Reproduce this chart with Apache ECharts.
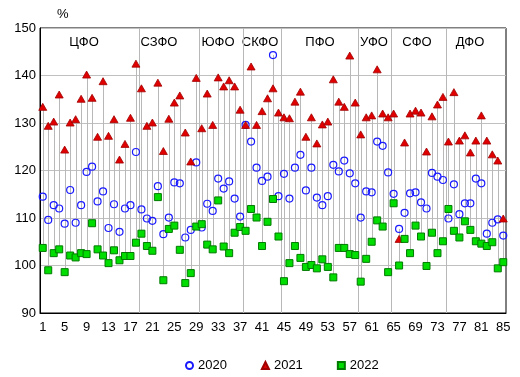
<!DOCTYPE html>
<html>
<head>
<meta charset="utf-8">
<script src="https://cdn.jsdelivr.net/npm/echarts@6/dist/echarts.min.js"></script>
<style>html,body{margin:0;padding:0;background:#fff}#c{width:520px;height:377px}</style>
</head>
<body>
<div id="c"></div>
<script>
const categories = ['1','2','3','4','5','6','7','8','9','10','11','12','13','14','15','16','17','18','19','20','21','22','23','24','25','26','27','28','29','30','31','32','33','34','35','36','37','38','39','40','41','42','43','44','45','46','47','48','49','50','51','52','53','54','55','56','57','58','59','60','61','62','63','64','65','66','67','68','69','70','71','72','73','74','75','76','77','78','79','80','81','82','83','84','85'];
const v2020 = [114.5,109.6,112.7,112.0,108.8,115.9,109.0,112.7,119.7,120.8,113.5,115.6,107.9,112.9,107.1,112.0,112.7,123.9,111.8,109.9,109.4,116.7,106.6,110.1,117.5,117.3,105.9,107.5,121.7,108.0,113.0,111.5,118.3,116.2,117.7,114.1,110.3,129.6,126.1,120.6,117.8,118.7,144.3,114.6,119.3,114.1,120.6,123.3,115.8,120.6,114.3,112.7,114.6,121.2,119.8,122.1,119.4,117.3,110.1,115.6,115.4,126.1,125.2,119.6,115.1,107.7,111.1,115.2,115.4,113.3,112.0,119.5,118.7,118.0,109.9,117.1,110.8,113.1,113.1,118.3,117.3,106.7,109.0,109.7,106.3];
const v2021 = [133.4,129.4,130.3,136.0,124.4,130.1,130.8,135.1,140.2,135.3,127.1,138.8,127.3,130.8,122.3,125.6,131.1,142.5,137.3,129.4,130.1,138.5,124.1,130.9,134.3,135.8,128.0,121.9,139.5,128.9,136.2,129.6,139.6,137.7,139.0,137.7,132.8,129.6,141.9,129.6,132.5,135.2,137.3,132.2,131.2,131.0,134.5,136.6,127.1,131.2,125.7,129.7,130.3,139.2,134.5,133.4,144.2,134.3,127.6,131.2,131.6,141.3,132.0,131.2,132.0,105.6,125.9,132.0,132.6,132.2,124.0,131.4,133.9,135.5,126.1,136.5,126.3,127.4,123.8,126.3,131.6,126.3,123.4,122.1,109.9];
const v2022 = [103.7,99.0,102.6,103.4,98.6,102.1,101.7,102.6,102.4,108.9,103.4,102.1,100.5,103.2,101.1,102.0,102.0,104.8,106.7,104.1,103.1,114.4,96.9,107.7,108.4,103.3,96.3,98.4,108.2,108.7,104.4,103.4,113.7,104.0,102.6,106.9,108.1,107.3,111.9,110.1,104.1,109.2,114.0,106.1,96.7,100.5,104.1,101.6,99.7,100.1,99.4,101.3,99.7,97.5,103.7,103.7,102.4,102.2,96.6,101.4,105.0,109.5,108.2,98.6,113.1,100.0,105.6,102.6,108.4,106.1,99.9,106.9,102.6,105.1,111.9,107.3,105.9,109.3,107.5,105.1,104.6,104.1,104.9,99.4,100.7];
const seriesNames = ['2020','2021','2022'];
const districtNames = ['ЦФО','СЗФО','ЮФО','СКФО','ПФО','УФО','СФО','ДФО'];
const districtLastCat = [18,29,37,44,58,64,74];
const yTicks = [90,100,110,120,130,140,150];

const labelX = [84,159,218,260,320,374,417,470];

const hiLo = categories.map((c,i)=>[i, Math.min(v2020[i],v2021[i],v2022[i]), Math.max(v2020[i],v2021[i],v2022[i])]);
const dividers = districtLastCat.map(k=>[k-1]);

const chart = echarts.init(document.getElementById('c'), null, {renderer:'canvas'});
const font = 'Liberation Sans, Arial, sans-serif';
chart.setOption({
  animation:false,
  backgroundColor:'#fff',
  grid:{left:40, right:14, top:28, bottom:64, show:true, borderColor:'#000', borderWidth:1, backgroundColor:'transparent'},
  xAxis:{type:'category', data:categories, boundaryGap:true,
    axisLine:{lineStyle:{color:'#000', width:1}}, axisTick:{show:false},
    axisLabel:{interval:3, color:'#000', fontSize:13, fontFamily:font, margin:8},
    splitLine:{show:false}},
  yAxis:{type:'value', min:yTicks[0], max:yTicks[yTicks.length-1], interval:10,
    axisLine:{show:true, lineStyle:{color:'#000'}}, axisTick:{show:false},
    axisLabel:{color:'#000', fontSize:13, fontFamily:font, margin:4},
    splitLine:{show:true, lineStyle:{color:'#c0c0c0', width:1}}},
  legend:{data:seriesNames, left:180, top:354, itemGap:34, itemWidth:7, itemHeight:7,
    textStyle:{fontSize:13, fontFamily:font, color:'#000'}},
  graphic:[
    {type:'text', left:57, top:8, style:{text:'%', font:'13px '+font, fill:'#000'}}
  ].concat(districtNames.map((n,i)=>({type:'text', x:labelX[i], y:42, style:{text:n, font:'13px '+font, fill:'#000', align:'center', verticalAlign:'middle'}}))),
  series:[
    {type:'custom', name:'hilo', silent:true, z:1, data:hiLo, encode:{x:0, y:[1,2]},
      renderItem:function(params, api){
        const lo = api.coord([api.value(0), api.value(1)]);
        const hi = api.coord([api.value(0), api.value(2)]);
        const x = Math.round(lo[0])+0.5;
        return {type:'line', shape:{x1:x, y1:lo[1], x2:x, y2:hi[1]}, style:{stroke:'#b8b8b8', lineWidth:1}};
      }},
    {type:'custom', name:'div', silent:true, z:1, data:dividers, encode:{x:0},
      renderItem:function(params, api){
        const p = api.coord([api.value(0), 120]);
        const w = api.size([1,0])[0];
        const x = Math.round(p[0] + w/2)+0.5;
        const cs = params.coordSys;
        return {type:'line', shape:{x1:x, y1:cs.y, x2:x, y2:cs.y+cs.height}, style:{stroke:'#b8b8b8', lineWidth:1}};
      }},
    {type:'scatter', name:'2020', data:v2020, symbol:'circle', symbolSize:7, z:3,
      itemStyle:{color:'rgba(255,255,255,0)', borderColor:'#1a1aff', borderWidth:1.2, opacity:1}},
    {type:'scatter', name:'2021', data:v2021, symbol:'triangle', symbolSize:[8,7], z:4,
      itemStyle:{color:'#e00000', borderColor:'#a00000', borderWidth:0.8, opacity:1}},
    {type:'scatter', name:'2022', data:v2022, symbol:'rect', symbolSize:7, z:5,
      itemStyle:{color:'#00dd00', borderColor:'#007a00', borderWidth:1, opacity:1}}
  ]
});
</script>
</body>
</html>
